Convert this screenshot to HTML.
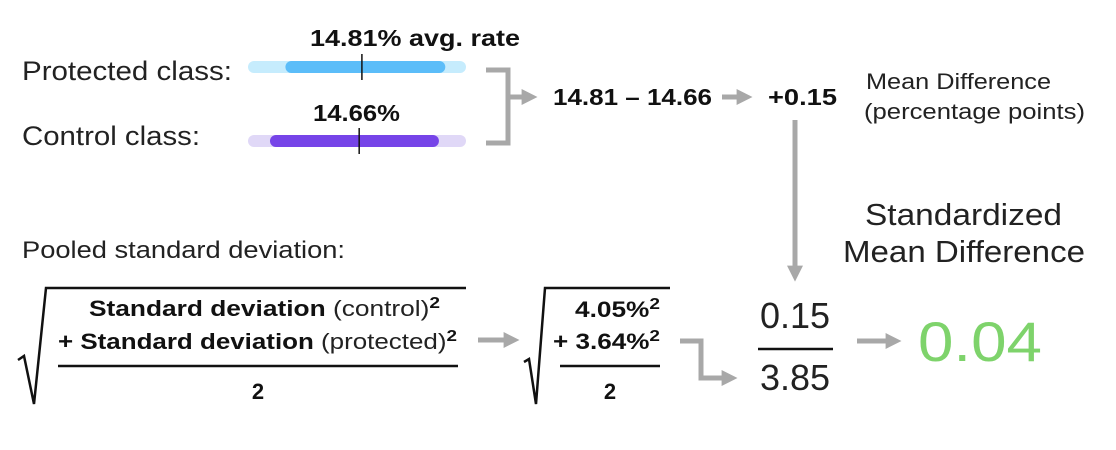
<!DOCTYPE html>
<html><head><meta charset="utf-8"><style>
html,body{margin:0;padding:0;background:#fff;}
svg{display:block;font-family:"Liberation Sans",sans-serif;}
.b{font-weight:bold;fill:#111;}
.l{fill:#222;}
</style></head><body>
<svg width="1116" height="450" viewBox="0 0 1116 450">
<defs>
<marker id="ah" viewBox="0 0 10 10" refX="4" refY="5" markerWidth="3.2" markerHeight="3.2" orient="auto" markerUnits="strokeWidth"><path d="M0,0 L10,5 L0,10 z" fill="#a8a8a8"/></marker>
</defs>
<g id="bars"></g>
<text x="22" y="80" font-size="27" textLength="210" lengthAdjust="spacingAndGlyphs" class="l">Protected class:</text>
<text x="22" y="145" font-size="27" textLength="178" lengthAdjust="spacingAndGlyphs" class="l">Control class:</text>
<text x="310" y="46" font-size="23" textLength="210" lengthAdjust="spacingAndGlyphs" class="b">14.81% avg. rate</text>
<text x="313" y="121" font-size="23" textLength="87" lengthAdjust="spacingAndGlyphs" class="b">14.66%</text>
<path d="M486,70 H508 V143 H486" fill="none" stroke="#a8a8a8" stroke-width="5"/>
<line x1="508" y1="97" x2="528" y2="97" stroke="#a8a8a8" stroke-width="5" marker-end="url(#ah)"/>
<text x="553" y="105" font-size="23" textLength="159" lengthAdjust="spacingAndGlyphs" class="b">14.81 – 14.66</text>
<line x1="722" y1="97" x2="743" y2="97" stroke="#a8a8a8" stroke-width="5" marker-end="url(#ah)"/>
<text x="768" y="105" font-size="23" textLength="69" lengthAdjust="spacingAndGlyphs" class="b">+0.15</text>
<text x="866" y="89" font-size="22" textLength="185" lengthAdjust="spacingAndGlyphs" class="l">Mean Difference</text>
<text x="864" y="119" font-size="22" textLength="221" lengthAdjust="spacingAndGlyphs" class="l">(percentage points)</text>
<line x1="795" y1="120" x2="795" y2="272" stroke="#a8a8a8" stroke-width="5" marker-end="url(#ah)"/>
<text x="865" y="225" font-size="31" textLength="197" lengthAdjust="spacingAndGlyphs" class="l">Standardized</text>
<text x="843" y="262" font-size="31" textLength="242" lengthAdjust="spacingAndGlyphs" class="l">Mean Difference</text>
<text x="22" y="258" font-size="24" textLength="323" lengthAdjust="spacingAndGlyphs" class="l">Pooled standard deviation:</text>
<path d="M18,360 L24,356 L34,404 L46,288 H466" fill="none" stroke="#111" stroke-width="2.5"/>
<text x="89" y="316" font-size="22" textLength="351" lengthAdjust="spacingAndGlyphs" class="l"><tspan class="b">Standard deviation</tspan> (control)<tspan class="b" font-size="16" dy="-8">2</tspan></text>
<text x="58" y="349" font-size="22" textLength="399" lengthAdjust="spacingAndGlyphs" class="l"><tspan class="b">+ Standard deviation</tspan> (protected)<tspan class="b" font-size="16" dy="-8">2</tspan></text>
<line x1="58" y1="366" x2="458" y2="366" stroke="#111" stroke-width="2.5"/>
<text x="258" y="399" font-size="22" class="b" text-anchor="middle">2</text>
<line x1="478" y1="340" x2="510" y2="340" stroke="#a8a8a8" stroke-width="5" marker-end="url(#ah)"/>
<path d="M524,362 L529,359 L536,404 L545,288 H670" fill="none" stroke="#111" stroke-width="2.5"/>
<text x="575" y="317" font-size="22" textLength="85" lengthAdjust="spacingAndGlyphs" class="b">4.05%<tspan font-size="16" dy="-8">2</tspan></text>
<text x="553" y="349" font-size="22" textLength="107" lengthAdjust="spacingAndGlyphs" class="b">+ 3.64%<tspan font-size="16" dy="-8">2</tspan></text>
<line x1="560" y1="366" x2="660" y2="366" stroke="#111" stroke-width="2.5"/>
<text x="610" y="399" font-size="22" class="b" text-anchor="middle">2</text>
<path d="M680,341 H701 V378 H728" fill="none" stroke="#a8a8a8" stroke-width="5" marker-end="url(#ah)"/>
<text x="795" y="328" font-size="36" class="l" text-anchor="middle">0.15</text>
<line x1="758" y1="349" x2="833" y2="349" stroke="#111" stroke-width="2.5"/>
<text x="795" y="390" font-size="36" class="l" text-anchor="middle">3.85</text>
<line x1="857" y1="341" x2="892" y2="341" stroke="#a8a8a8" stroke-width="5" marker-end="url(#ah)"/>
<text x="918" y="361" font-size="56" textLength="124" lengthAdjust="spacingAndGlyphs" fill="#7ed36b">0.04</text>
</svg>
<script>
const groups = ['protected', 'control'];
const trackColors = ['#c6ecfd', '#e0d8f7'];
const barColors = ['#5bbdf9', '#7644e8'];
const lowValues = [10.6, 9.75];
const meanValues = [14.81, 14.66];
const highValues = [19.4, 19.05];
const axisMin = 8.54, axisMax = 20.54;
const x = v => 248 + (v - axisMin) / (axisMax - axisMin) * (466 - 248);
const rowY = [67, 141];
const NS = 'http://www.w3.org/2000/svg';
const g = document.getElementById('bars');
function mk(tag, attrs){const e=document.createElementNS(NS,tag);for(const k in attrs)e.setAttribute(k,attrs[k]);g.appendChild(e);return e;}
groups.forEach((name,i)=>{
  const y=rowY[i];
  const t=mk('line',{x1:x(axisMin)+6,x2:x(axisMax)-6,y1:y,y2:y,stroke:trackColors[i],'stroke-width':12,'stroke-linecap':'round'});
  
  
  const b=mk('line',{x1:x(lowValues[i])+6,x2:x(highValues[i])-6,y1:y,y2:y,stroke:barColors[i],'stroke-width':12,'stroke-linecap':'round'});
  
  
  const m=mk('line',{x1:x(meanValues[i]),x2:x(meanValues[i]),y1:y-13,y2:y+13,stroke:'#111','stroke-width':1.5});
  
  
});
</script>
</body></html>
